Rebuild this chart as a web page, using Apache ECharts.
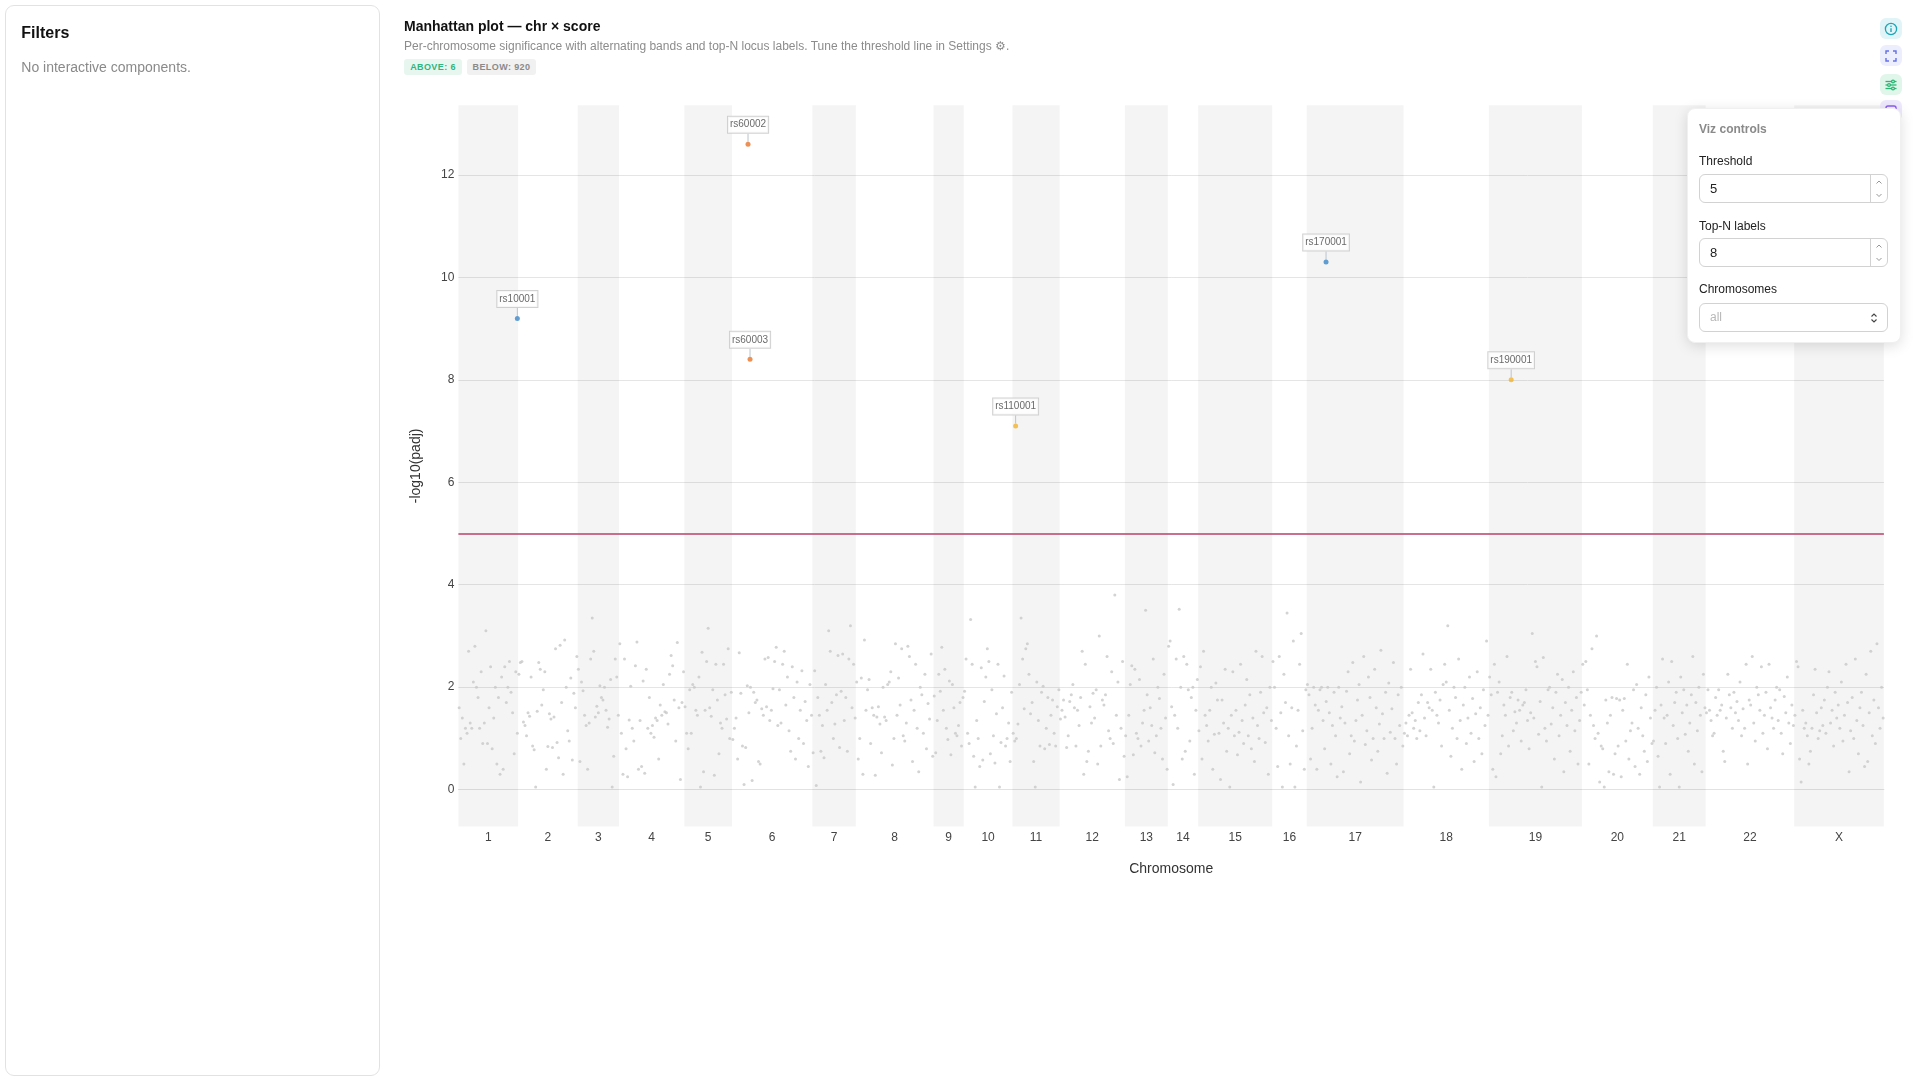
<!DOCTYPE html>
<html>
<head>
<meta charset="utf-8">
<script src="https://cdn.jsdelivr.net/npm/echarts@6/dist/echarts.min.js"></script>
<style>
html,body{margin:0;padding:0;width:1920px;height:1080px;overflow:hidden;background:#fff;font-family:"Liberation Sans",Arial,Helvetica,sans-serif;}
#chart{position:absolute;left:0;top:0;width:1920px;height:1080px;z-index:0;}
.abs{position:absolute;white-space:nowrap;line-height:1;}
#card{position:absolute;left:4.5px;top:4.5px;width:373px;height:1069px;border:1px solid #e2e2e2;border-radius:9px;z-index:2;}
.badge{position:absolute;top:59px;height:16px;line-height:16px;font-size:9px;font-weight:bold;letter-spacing:0.4px;text-align:center;border-radius:3px;z-index:2;}
.icon{position:absolute;left:1880px;width:22px;height:21px;border-radius:6px;z-index:2;display:flex;align-items:center;justify-content:center;}
#panel{position:absolute;left:1687px;top:108px;width:214px;height:235px;background:#fff;border-radius:8px;box-shadow:0 3px 14px rgba(0,0,0,0.13);border:1px solid #f0f0f0;box-sizing:border-box;z-index:5;}
.lbl{position:absolute;left:11px;font-size:12px;color:#222;line-height:1;white-space:nowrap;}
.box{position:absolute;left:11px;width:189px;height:29px;border:1px solid #d2d2d2;border-radius:6px;box-sizing:border-box;}
.val{position:absolute;left:10px;top:0;line-height:27px;font-size:13px;color:#222;}
.spin{position:absolute;right:0;top:0;width:16px;height:27px;border-left:1px solid #d2d2d2;}
</style>
</head>
<body>
<div id="chart"></div>

<div id="card">
  <div class="abs" style="left:15.8px;top:19.8px;font-size:16px;font-weight:bold;color:#111;">Filters</div>
  <div class="abs" style="left:15.8px;top:54.8px;font-size:14px;color:#8a8a8a;">No interactive components.</div>
</div>

<div class="abs" style="left:404px;top:18.9px;font-size:14px;font-weight:bold;color:#111;z-index:2;">Manhattan plot — chr × score</div>
<div class="abs" style="left:404px;top:39.8px;font-size:12px;color:#8c8c8c;z-index:2;">Per-chromosome significance with alternating bands and top-N locus labels. Tune the threshold line in Settings ⚙.</div>
<div class="badge" style="left:404px;width:58px;background:#e7f7f0;color:#2fb47e;">ABOVE: 6</div>
<div class="badge" style="left:467px;width:69px;background:#f1f1f1;color:#8a8a8a;">BELOW: 920</div>

<div class="icon" style="top:18px;background:#e1f4f7;">
  <svg width="14" height="14" viewBox="0 0 14 14"><circle cx="7" cy="7" r="5.6" fill="none" stroke="#1ea6b8" stroke-width="1.3"/><line x1="7" y1="6.3" x2="7" y2="10" stroke="#1ea6b8" stroke-width="1.4"/><circle cx="7" cy="4.3" r="0.8" fill="#1ea6b8"/></svg>
</div>
<div class="icon" style="top:45px;background:#eceefd;">
  <svg width="14" height="14" viewBox="0 0 14 14" fill="none" stroke="#6470e6" stroke-width="1.4"><polyline points="2,5 2,2 5,2"/><polyline points="9,2 12,2 12,5"/><polyline points="12,9 12,12 9,12"/><polyline points="5,12 2,12 2,9"/></svg>
</div>
<div class="icon" style="top:74px;background:#e0f6ea;">
  <svg width="14" height="14" viewBox="0 0 14 14" fill="none" stroke="#2bb673" stroke-width="1.3"><line x1="1.5" y1="3.5" x2="12.5" y2="3.5"/><line x1="1.5" y1="7" x2="12.5" y2="7"/><line x1="1.5" y1="10.5" x2="12.5" y2="10.5"/><circle cx="9" cy="3.5" r="1.4" fill="#e0f6ea"/><circle cx="5" cy="7" r="1.4" fill="#e0f6ea"/><circle cx="9" cy="10.5" r="1.4" fill="#e0f6ea"/></svg>
</div>
<div class="icon" style="top:100px;background:#efe9fd;">
  <svg width="14" height="14" viewBox="0 0 14 14" fill="none" stroke="#8b5cf0" stroke-width="1.4"><rect x="2" y="2" width="10" height="10" rx="2"/></svg>
</div>

<div id="panel">
  <div class="lbl" style="top:13.5px;font-weight:bold;color:#8a8a8a;">Viz controls</div>
  <div class="lbl" style="top:45.8px;">Threshold</div>
  <div class="box" style="top:64.5px;"><div class="val">5</div>
    <div class="spin"><svg width="16" height="27" viewBox="0 0 16 27" fill="none" stroke="#8a8a8a" stroke-width="0.9"><polyline points="5.5,8.5 8,6 10.5,8.5"/><polyline points="5.5,19 8,21.5 10.5,19"/></svg></div>
  </div>
  <div class="lbl" style="top:110.8px;">Top-N labels</div>
  <div class="box" style="top:128.5px;"><div class="val">8</div>
    <div class="spin"><svg width="16" height="27" viewBox="0 0 16 27" fill="none" stroke="#8a8a8a" stroke-width="0.9"><polyline points="5.5,8.5 8,6 10.5,8.5"/><polyline points="5.5,19 8,21.5 10.5,19"/></svg></div>
  </div>
  <div class="lbl" style="top:174.2px;">Chromosomes</div>
  <div class="box" style="top:193.5px;height:29.5px;"><div class="val" style="font-size:12px;color:#b8b8b8;line-height:27.5px;">all</div>
    <svg style="position:absolute;right:9px;top:8px;" width="8" height="12" viewBox="0 0 8 12" fill="none" stroke="#444" stroke-width="1.1"><polyline points="1.5,4.5 4,2 6.5,4.5"/><polyline points="1.5,7.5 4,10 6.5,7.5"/></svg>
  </div>
</div>

<script>
// ---------- DATA ----------
const chrNames = ['1','2','3','4','5','6','7','8','9','10','11','12','13','14','15','16','17','18','19','20','21','22','X'];
// relative chromosome lengths (same units as the x axis)
const chrLen = [38.8,38.7,26.9,42.4,31.0,52.2,28.3,50.4,19.7,31.6,30.7,42.4,27.9,19.7,48.1,22.4,63.0,55.4,60.5,46.0,34.4,57.5,58.3];

const threshold = 5;

// background -log10(padj) scores per chromosome (in position order)
const scores_1 = [1.6,1.0,1.4,0.5,1.2,1.1,2.7,1.3,1.2,2.1,2.8,2.0,1.8,1.2,2.3,0.9,1.3,3.1,0.9,1.6,2.4,0.8,1.4,2.0,0.5,1.8,0.3,2.2,0.4,2.4,1.7,2.0,2.5,1.9,1.5,0.7,2.3,1.1];
const scores_2 = [2.25,2.48,2.5,1.32,1.25,1.05,1.5,1.43,2.2,0.85,0.78,0.05,1.53,2.48,2.35,1.65,1.95,2.3,0.4,0.84,1.48,1.38,0.82,1.42,2.75,0.92,0.62,2.82,1.7,0.3,2.92,2.0,1.15,0.95,2.18,0.58,1.88,1.6,2.6];
const scores_3 = [2.35,0.55,2.1,1.93,1.45,1.25,0.4,1.3,2.55,3.35,2.7,1.42,1.63,1.5,2.03,1.8,1.75,2.0,1.55,1.22,1.38,2.15,0.05,0.65,2.55,2.2,1.45];
const scores_4 = [2.85,1.1,0.3,2.55,0.8,0.25,1.36,2.02,1.2,0.95,2.42,2.88,0.4,1.35,0.45,2.12,0.32,2.35,1.2,1.8,1.1,1.25,1.02,1.4,1.35,0.6,1.65,1.45,2.05,1.52,1.5,1.28,2.25,2.62,2.42,1.75,0.95,2.87,1.6,0.2,1.7,2.3];
const scores_5 = [1.62,1.1,0.8,1.95,1.1,2.05,2.0,1.55,1.45,2.2,0.05,2.68,0.35,1.55,2.5,3.15,1.6,1.43,1.95,0.28,2.45,1.75,0.7,1.3,1.2,2.45,1.85,1.38,2.75,1.0,1.9];
const scores_6 = [0.98,1.2,1.4,0.6,2.67,1.88,0.85,0.1,0.82,2.03,1.5,2.0,0.18,1.9,1.7,1.75,0.55,0.5,1.58,1.45,2.55,1.62,2.58,1.35,1.55,1.97,2.5,2.78,1.25,1.95,1.3,2.45,2.7,1.65,2.2,1.15,0.75,2.4,1.8,0.6,2.1,1.0,1.55,2.32,0.9,1.72,1.35,0.45,2.05,1.45];
const scores_7 = [0.72,2.32,0.08,1.8,1.45,0.75,1.25,0.62,2.05,1.55,3.1,2.7,1.7,1.0,1.28,1.85,2.62,0.82,1.92,2.65,1.35,1.8,0.75,2.55,3.2,1.6,2.45,1.4];
const scores_8 = [2.1,0.6,1.0,2.18,0.3,2.92,1.55,1.95,2.15,0.9,1.6,1.45,0.28,1.42,1.62,1.28,0.72,2.0,1.42,1.35,2.05,2.1,2.3,0.48,1.0,2.85,1.45,2.18,1.65,2.75,1.05,0.95,1.3,2.8,2.6,1.75,0.55,1.55,2.45,1.2,0.35,2.0,1.85,1.1,2.25,0.8,1.68,1.38,2.65,0.65];
const scores_9 = [1.83,0.72,1.35,2.25,1.92,2.78,1.55,2.35,1.2,0.98,2.12,0.68,2.05,1.6,1.1,1.05,1.25,1.7,0.85,1.8];
const scores_10 = [1.92,2.55,1.1,0.9,3.32,2.45,0.65,0.05,1.35,1.0,0.45,2.38,0.58,1.72,2.2,2.75,2.5,0.7,1.95,1.05,0.52,1.48,2.45,0.05,0.92,1.6,2.22,0.85,1.0,1.3,0.55,1.9];
const scores_11 = [1.1,0.95,1.0,1.28,2.05,3.35,2.55,1.58,2.75,2.85,2.25,1.48,1.7,0.55,0.05,2.1,1.35,0.85,1.9,2.02,0.8,1.2,1.8,0.88,1.45,1.75,1.1,0.85,1.62,1.95];
const scores_12 = [1.38,1.55,1.75,1.42,0.82,1.05,1.72,1.85,2.05,1.6,0.85,1.55,1.25,1.8,2.7,0.3,2.45,0.55,0.75,1.62,1.3,1.88,1.4,1.95,0.5,3.0,0.85,1.75,1.65,1.85,2.6,1.15,1.0,2.3,0.9,3.8,1.45,2.1,0.2,1.2,2.5,0.65];
const scores_13 = [1.05,0.25,1.45,2.05,2.42,0.68,2.35,1.1,1.0,2.15,0.85,1.3,1.55,3.5,1.85,0.95,1.6,1.25,2.55,0.72,1.05,2.0,1.78,1.2,0.6,2.25,1.4,0.4];
const scores_14 = [2.8,2.9,1.62,0.1,1.45,2.55,1.2,3.52,2.0,0.6,2.6,0.75,2.45,1.95,0.95,1.8,2.0,0.3,1.55,2.15];
const scores_15 = [1.15,2.4,0.6,2.7,1.45,1.25,0.95,1.55,2.0,0.4,1.08,2.08,1.75,1.1,0.2,1.75,1.3,2.35,0.75,1.2,0.05,1.45,2.3,1.05,1.55,0.68,1.12,2.45,1.35,0.9,1.65,2.15,1.05,1.85,0.8,1.4,0.55,2.7,1.25,1.0,1.9,2.6,1.5,0.92,1.6,0.3,2.0,1.35];
const scores_16 = [2.5,2.0,1.2,0.45,2.6,1.5,0.05,2.25,1.7,3.45,1.05,0.5,1.6,2.9,0.05,0.85,1.55,2.45,3.05,1.15,0.4,1.95];
const scores_17 = [2.05,1.85,0.6,1.2,2.0,1.65,0.4,1.55,1.95,2.0,1.35,0.8,1.72,2.0,1.5,0.5,1.25,1.9,1.05,0.25,2.0,1.4,1.62,0.35,1.3,1.92,2.3,0.7,1.05,2.48,0.95,1.35,1.75,2.05,0.15,1.45,2.6,0.88,1.15,2.2,1.8,0.58,1.0,2.35,1.6,0.75,1.28,2.72,1.48,1.0,1.9,0.32,2.08,1.12,1.58,2.48,1.0,0.5,1.85,1.25,2.0,0.85];
const scores_18 = [1.1,1.3,1.05,1.45,2.35,1.5,1.2,1.35,1.0,1.7,1.15,1.85,2.65,1.4,1.05,1.7,1.6,2.35,1.55,0.05,1.9,1.45,1.3,1.75,0.85,2.05,2.45,2.1,3.2,1.55,0.65,1.2,2.0,1.8,1.0,2.55,1.35,0.4,1.65,2.0,0.9,1.4,2.2,1.1,1.78,0.55,1.48,2.3,1.0,1.6,0.7,1.95,1.25,2.9,1.45];
const scores_19 = [2.2,1.85,0.4,2.45,0.25,1.9,2.1,0.7,1.05,1.65,1.45,2.6,0.85,1.8,1.9,1.15,1.52,1.3,1.75,1.55,0.95,1.65,1.7,1.95,1.35,0.8,1.5,3.05,1.4,2.5,2.4,1.08,1.72,0.05,2.58,1.2,0.95,1.95,2.0,1.28,1.6,0.6,1.9,2.25,1.05,1.45,2.15,0.35,1.7,1.25,2.0,0.75,1.55,2.3,1.15,1.8,0.5,1.35,1.9];
const scores_20 = [2.45,1.65,2.5,1.95,0.5,1.45,2.75,1.25,1.0,3.0,1.1,0.15,0.85,0.8,0.05,1.75,1.3,0.35,1.45,1.8,0.3,0.7,1.78,0.85,1.75,0.25,1.55,1.78,0.95,2.45,0.6,1.15,1.3,1.95,0.45,2.05,1.2,0.3,1.6,1.05,0.75,1.85,0.55,2.2,1.4,0.9];
const scores_21 = [0.95,1.55,2.0,0.65,0.05,1.65,2.55,1.4,0.9,1.45,2.1,0.3,2.5,1.25,1.7,1.9,1.0,0.05,2.2,1.5,1.95,1.08,1.65,0.75,1.3,1.85,2.6,0.5,1.7,1.15,2.0,1.45,0.35,2.25,1.6];
const scores_22 = [1.5,1.95,1.55,1.35,1.05,1.1,1.8,1.45,1.95,1.55,1.65,0.75,0.55,1.4,2.25,1.85,1.6,1.2,1.9,1.5,1.72,1.35,2.1,1.05,1.58,1.2,2.45,0.5,1.75,1.65,2.6,1.3,0.95,2.0,1.85,1.55,2.4,1.1,1.45,1.9,0.8,2.45,1.6,1.4,1.2,1.75,2.0,1.35,1.95,1.1,0.7,1.82,1.5,2.2,1.3,0.9,1.65,1.25];
const scores_X = [1.45,2.5,2.4,0.6,0.15,1.55,1.2,1.3,1.05,0.5,0.75,1.2,1.85,2.35,1.5,1.0,1.15,1.6,1.25,1.75,1.1,2.0,2.3,1.3,1.55,0.85,1.9,1.4,1.65,1.2,2.1,0.95,1.45,2.45,1.7,0.35,1.15,1.8,1.0,2.55,1.35,0.7,1.6,1.9,1.25,0.45,2.25,0.55,1.5,2.7,1.05,1.75,0.9,2.85,1.6,1.2,2.0,1.4];

// top loci (above threshold)
const topIds   = ['rs10001','rs60002','rs60003','rs110001','rs170001','rs190001'];
const topChr   = ['1','6','6','11','17','19'];
const topPos   = [38.3,10.4,11.7,2.1,12.6,14.5];   // position within chromosome
const topScore = [9.2,12.6,8.4,7.1,10.3,8.0];

// ---------- STYLE ----------
const locusColor = {'1':'#3a86c8','6':'#e8742a','11':'#f3b12f','17':'#3a86c8','19':'#f3b12f'};

// ---------- BUILD ----------
const chrScores = [scores_1,scores_2,scores_3,scores_4,scores_5,scores_6,scores_7,scores_8,scores_9,scores_10,scores_11,scores_12,scores_13,scores_14,scores_15,scores_16,scores_17,scores_18,scores_19,scores_20,scores_21,scores_22,scores_X];
const starts = []; let acc = 0;
chrLen.forEach(l => { starts.push(acc); acc += l; });
const total = acc;
const centers = chrLen.map((l,i) => starts[i] + l/2);

const bgData = [];
chrScores.forEach((arr, ci) => {
  const n = arr.length;
  arr.forEach((v, i) => bgData.push([starts[ci] + (i + 0.5) * chrLen[ci] / n, v]));
});
const topData = topIds.map((id, k) => {
  const ci = chrNames.indexOf(topChr[k]);
  return {name: id, value: [starts[ci] + topPos[k], topScore[k]], itemStyle: {color: locusColor[topChr[k]]}};
});
const bands = [];
chrNames.forEach((c, i) => {
  if (i % 2 === 0) bands.push([{xAxis: starts[i]}, {xAxis: starts[i] + chrLen[i]}]);
});

function chrLabel(v) {
  let best = 0, bd = Infinity;
  centers.forEach((c, i) => { const d = Math.abs(c - v); if (d < bd) { bd = d; best = i; } });
  return chrNames[best];
}

const chart = echarts.init(document.getElementById('chart'), null, {renderer: 'canvas'});
chart.setOption({
  animation: false,
  textStyle: {fontFamily: '"Liberation Sans", Arial, Helvetica, sans-serif'},
  grid: {left: 458.4, right: 36.1, top: 105.3, bottom: 253.5, containLabel: false, outerBoundsMode: 'none'},
  xAxis: {
    type: 'value', min: 0, max: total,
    splitLine: {show: false},
    axisTick: {show: false},
    axisLine: {show: true, lineStyle: {color: '#e2e2e2', width: 1}},
    axisLabel: {customValues: centers, formatter: v => chrLabel(v), margin: 5, color: '#444', fontSize: 12},
    name: 'Chromosome', nameLocation: 'middle', nameGap: 36,
    nameTextStyle: {fontSize: 14, color: '#333'}
  },
  yAxis: {
    type: 'value', min: -0.72, max: 13.36, splitNumber: 7,
    axisLine: {show: false}, axisTick: {show: false},
    splitLine: {show: true, showMinLine: false, showMaxLine: false, lineStyle: {color: '#e5e5e5', width: 1}},
    axisLabel: {showMinLabel: false, showMaxLabel: false, margin: 4, color: '#444', fontSize: 12},
    name: '-log10(padj)', nameLocation: 'middle', nameGap: 35,
    nameTextStyle: {fontSize: 14, color: '#333'}
  },
  series: [
    {
      type: 'scatter', data: [], z: -1, silent: true,
      markArea: {silent: true, itemStyle: {color: 'rgba(0,0,0,0.043)'}, data: bands}
    },
    {
      type: 'scatter', data: bgData, symbolSize: 3, silent: true, z: 2,
      itemStyle: {color: '#c8c8c8'},
      markLine: {silent: true, symbol: 'none', label: {show: false},
        lineStyle: {color: '#b8406a', width: 1.5, type: 'solid'},
        data: [{yAxis: threshold}]}
    },
    {
      type: 'scatter', data: topData, symbolSize: 5, z: 5,
      label: {show: true, position: 'top', distance: 2, formatter: '{b}', fontSize: 10, color: '#444',
        backgroundColor: '#fff', borderColor: '#c6c6c6', borderWidth: 1, padding: [3, 2], lineHeight: 10},
      labelLayout: {dy: -7},
      labelLine: {show: true, lineStyle: {color: '#b8c3cc', width: 1}}
    }
  ]
});
</script>
</body>
</html>
